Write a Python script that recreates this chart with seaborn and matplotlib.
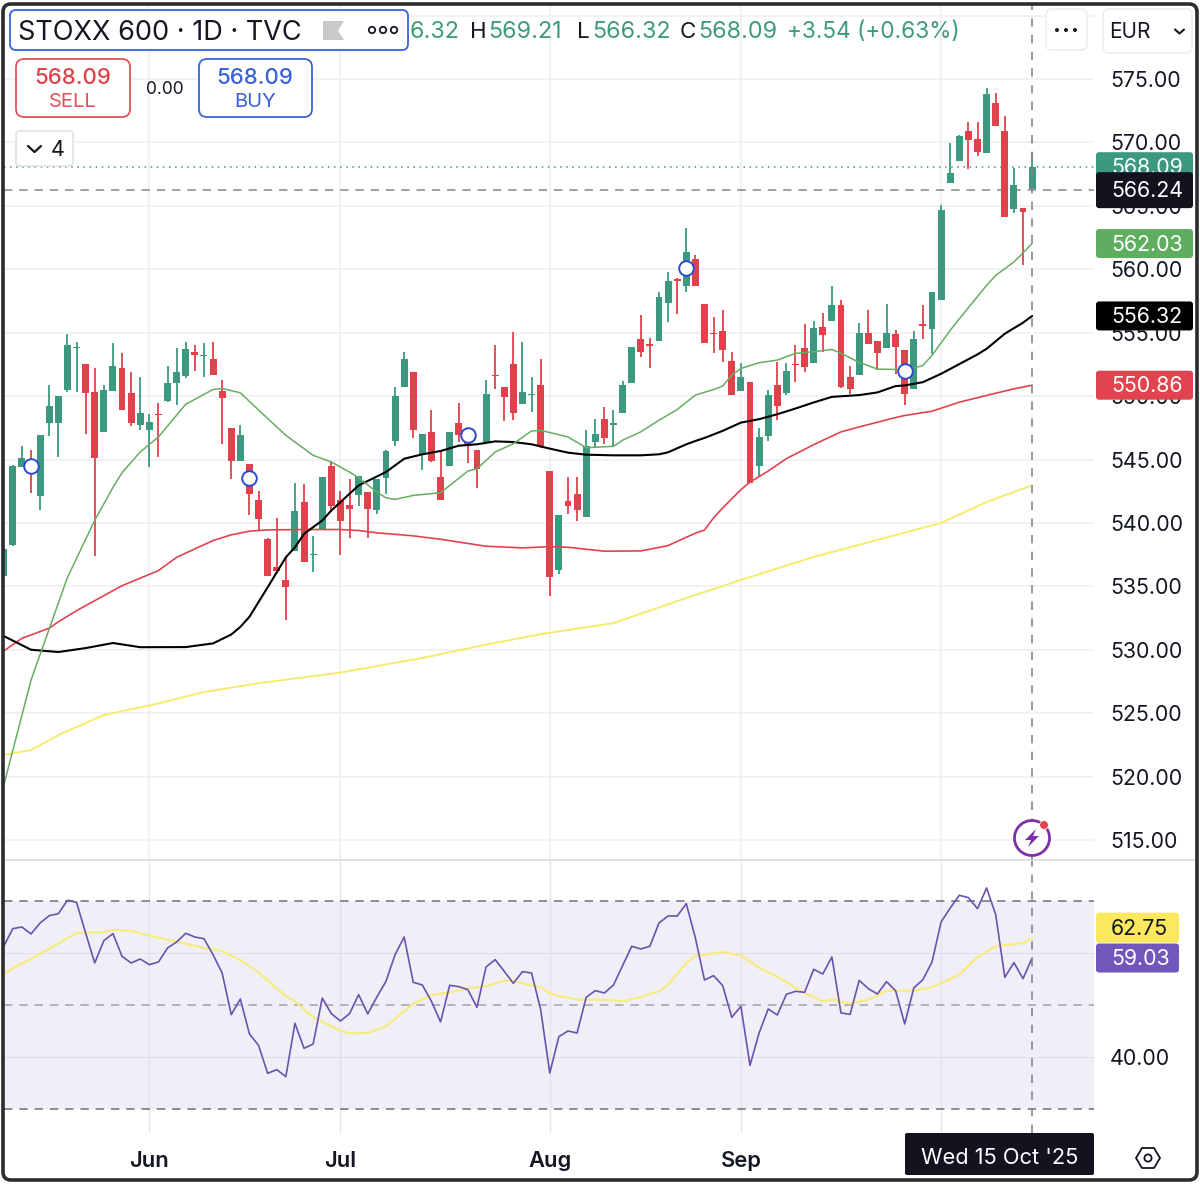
import matplotlib
matplotlib.use("Agg")
import matplotlib.pyplot as plt
from matplotlib.patches import FancyBboxPatch, Polygon, Circle, Arc
import numpy as np
import pandas as pd
import seaborn as sns

# candles (index 0 is the half hidden one at the left edge)
opens = [535.84, 538.29, 544.41, 544.8, 542.11, 547.88, 547.88, 550.52, 553.79, 552.57,
         550.36, 547.17, 550.39, 552.23, 550.28, 547.7, 547.3, 548.6, 549.6, 551.07,
         551.57, 553.47, 553.13, 552.92, 550.39, 547.49, 544.88, 544.67, 541.77, 538.71,
         536.5, 535.5, 537.79, 541.64, 537.45, 539.48, 544.49, 541.77, 541.43, 542.19,
         542.4, 540.98, 543.56, 546.43, 550.73, 551.89, 545.33, 547.2, 543.59, 544.49,
         547.91, 547.17, 545.75, 546.33, 551.65, 550.68, 552.57, 549.41, 550.07, 550.89,
         544.09, 536.32, 541.69, 542.27, 540.45, 546.41, 548.17, 547.75, 548.65, 551.07,
         554.53, 554.08, 554.37, 557.32, 559.22, 558.69, 560.83, 557.3, 555.0, 555.13,
         552.76, 550.44, 551.15, 544.49, 546.83, 550.89, 550.21, 552.55, 553.82, 552.58,
         555.42, 555.95, 557.16, 551.47, 551.66, 555.0, 554.37, 553.82, 554.87, 553.6,
         550.57, 555.65, 555.29, 557.58, 566.81, 568.55, 570.89, 570.31, 569.18, 573.13,
         570.87, 564.73, 564.81, 566.32]
closes = [537.95, 544.51, 545.12, 544.0, 546.94, 549.23, 549.99, 554.02, 553.89, 550.26,
          545.12, 550.49, 552.36, 548.94, 547.88, 548.67, 547.94, 548.49, 551.05, 551.89,
          553.71, 553.23, 553.23, 551.65, 549.83, 544.88, 546.94, 542.27, 540.27, 535.79,
          536.18, 534.92, 540.95, 536.9, 537.55, 543.59, 541.32, 540.19, 541.11, 543.72,
          541.06, 543.46, 545.7, 549.99, 552.92, 547.3, 546.99, 544.88, 541.77, 547.2,
          546.96, 546.2, 544.27, 550.2, 551.57, 549.89, 548.7, 550.33, 550.2, 546.04,
          535.71, 540.59, 541.32, 540.98, 546.04, 547.04, 546.7, 547.88, 550.84, 553.89,
          553.5, 553.97, 557.85, 559.09, 559.09, 561.33, 558.67, 554.21, 554.92, 553.63,
          550.08, 551.47, 543.15, 546.78, 550.08, 549.21, 552.0, 552.42, 552.26, 555.35,
          554.82, 557.16, 550.73, 550.58, 555.0, 554.08, 553.4, 554.95, 553.87, 550.18,
          554.47, 555.52, 558.18, 564.66, 567.6, 570.5, 570.21, 569.24, 573.81, 571.29,
          564.13, 566.63, 564.52, 568.09]
highs = [537.95, 544.6, 546.09, 545.72, 546.94, 550.84, 549.99, 554.87, 554.23, 552.57,
         552.23, 550.84, 554.16, 553.42, 551.89, 551.52, 548.62, 549.49, 552.36, 553.76,
         554.23, 554.02, 554.16, 554.23, 551.26, 547.49, 547.75, 544.67, 542.53, 538.82,
         540.4, 537.29, 543.17, 543.09, 539.0, 543.59, 544.88, 542.53, 543.43, 543.72,
         542.4, 543.46, 545.78, 550.68, 553.44, 551.89, 546.99, 548.94, 545.62, 547.2,
         549.49, 547.4, 545.75, 551.26, 554.02, 550.68, 555.05, 554.23, 551.47, 552.92,
         544.09, 540.59, 543.62, 543.62, 547.36, 548.17, 549.15, 548.89, 551.23, 553.89,
         556.37, 554.58, 558.19, 559.8, 559.3, 563.28, 561.12, 557.3, 556.24, 556.79,
         553.45, 552.58, 551.15, 547.49, 550.47, 552.71, 552.58, 554.03, 555.69, 555.92,
         556.53, 558.69, 557.58, 552.37, 555.79, 556.79, 554.37, 557.3, 555.21, 553.6,
         555.13, 557.15, 558.18, 565.05, 569.92, 570.6, 571.63, 571.63, 574.26, 573.87,
         572.1, 567.95, 564.81, 569.21]
lows = [535.84, 538.2, 544.41, 542.38, 541.0, 546.83, 545.17, 550.31, 550.31, 547.04,
        537.37, 547.17, 550.39, 548.94, 547.67, 547.36, 544.41, 545.17, 549.55, 549.33,
        551.44, 551.97, 551.52, 551.65, 546.22, 543.48, 544.88, 540.64, 539.45, 535.79,
        536.18, 532.34, 537.79, 536.9, 536.11, 539.48, 540.85, 537.45, 538.82, 541.32,
        538.82, 540.72, 542.25, 546.07, 550.73, 546.7, 544.19, 544.82, 541.77, 544.49,
        546.38, 544.75, 542.75, 546.33, 550.57, 548.02, 548.15, 549.41, 548.75, 545.88,
        534.23, 535.97, 540.72, 540.19, 540.45, 545.99, 546.2, 546.04, 548.65, 551.07,
        553.1, 552.24, 554.37, 555.82, 556.5, 558.24, 558.67, 554.21, 553.37, 552.68,
        550.08, 550.44, 543.15, 543.62, 546.46, 548.1, 550.08, 551.13, 551.92, 552.58,
        553.5, 555.95, 550.65, 550.15, 551.66, 554.08, 552.05, 553.82, 551.71, 549.26,
        550.57, 554.52, 553.34, 557.58, 566.81, 568.55, 567.87, 568.97, 569.18, 571.29,
        564.13, 564.47, 560.34, 566.32]

# moving averages: candle index and value at the places they were read
ma20_x = [0, 3, 7, 10, 12, 13, 15, 17, 20, 23, 24, 26, 29, 31, 34, 36, 38, 39, 41, 42, 43, 45, 48,
          51, 52, 54, 56, 58, 59, 62, 64, 67, 68, 70, 72, 74, 76, 78, 79, 80, 81, 83, 85, 87, 89,
          91, 92, 94, 96, 98, 99, 100, 101, 102, 104, 105, 106, 108, 109, 111, 112, 113]
ma20_y = [519.3, 527.6, 535.7, 540.2, 542.8, 543.96, 545.6, 546.78, 549.36, 550.52, 550.6, 550.26,
          548.23, 546.91, 545.33, 544.8, 544.01, 543.56, 542.43, 541.98, 541.85, 542.17, 542.38,
          544.09, 544.27, 545.59, 546.25, 547.25, 547.3, 546.78, 545.93, 546.04, 546.52, 547.18,
          548.1, 548.94, 550.08, 550.52, 550.79, 551.66, 552.18, 552.63, 552.84, 553.37, 553.5,
          553.68, 553.37, 552.66, 552.13, 552.1, 552.07, 552.21, 552.42, 553.21, 555.18, 556.1,
          556.97, 558.73, 559.52, 560.58, 561.29, 562.03]
ma50_x = [0, 3, 6, 9, 12, 15, 20, 23, 25, 26, 27, 29, 31, 32, 33, 35, 36, 38, 39, 42, 44, 46, 48,
          50, 52, 54, 56, 58, 60, 62, 64, 67, 70, 72, 73, 75, 76, 77, 79, 81, 83, 85, 87, 89, 91,
          94, 96, 98, 99, 101, 103, 107, 108, 110, 112, 113]
ma50_y = [531.08, 530.0, 529.82, 530.13, 530.53, 530.2, 530.21, 530.5, 531.2, 531.8, 532.6, 534.92,
          537.29, 538.08, 539.14, 540.19, 540.98, 542.3, 542.96, 544.01, 545.06, 545.41, 545.67,
          546.09, 546.2, 546.43, 546.38, 546.2, 545.86, 545.54, 545.38, 545.33, 545.33, 545.41,
          545.57, 546.2, 546.46, 546.7, 547.26, 547.91, 548.18, 548.57, 549.02, 549.5, 549.94,
          550.08, 550.29, 550.79, 550.84, 551.1, 551.76, 553.29, 553.73, 554.92, 555.79, 556.32]
ma100_x = [0, 2, 5, 6, 8, 10, 13, 17, 19, 21, 23, 25, 27, 29, 33, 37, 39, 41, 45, 48, 53, 57, 60,
           62, 66, 70, 73, 75, 76, 77, 78, 79, 80, 81, 82, 84, 86, 89, 92, 94, 98, 99, 102, 105,
           109, 111, 113]
ma100_y = [529.9, 530.9, 531.7, 532.2, 533.08, 533.87, 535.05, 536.24, 537.29, 537.95, 538.61,
           539.06, 539.35, 539.45, 539.48, 539.48, 539.4, 539.22, 538.98, 538.71, 538.16, 538.03,
           538.13, 538.08, 537.77, 537.79, 538.21, 538.87, 539.19, 539.44, 540.4, 541.18, 541.9,
           542.62, 543.22, 544.09, 545.07, 546.17, 547.18, 547.57, 548.31, 548.47, 548.81, 549.52,
           550.23, 550.57, 550.86]
ma200_x = [0, 3, 6, 11, 16, 22, 28, 37, 46, 53, 59, 67, 75, 81, 89, 96, 103, 108, 113]
ma200_y = [521.7, 522.08, 523.27, 524.85, 525.6, 526.66, 527.36, 528.2, 529.35, 530.4, 531.23,
           532.1, 534.08, 535.5, 537.32, 538.66, 540.0, 541.65, 542.97]

# blue circle markers on the candles
signal_x = [3, 27, 51, 75, 99]
signal_y = [544.5, 543.53, 546.9, 560.1, 552.0]

# RSI pane
rsi = [61.28, 64.68, 65.0, 63.65, 65.77, 67.18, 67.56, 70.13, 69.74, 63.84,
       58.08, 62.37, 63.72, 59.36, 58.08, 58.84, 57.75, 58.27, 60.96, 62.11,
       63.78, 63.07, 62.75, 59.68, 56.15, 48.14, 51.15, 44.42, 42.24, 36.86,
       37.56, 36.22, 46.47, 41.66, 42.5, 51.34, 48.33, 46.92, 48.33, 51.99,
       48.27, 51.54, 54.55, 59.68, 63.07, 54.36, 53.84, 50.7, 46.73, 53.78,
       53.52, 52.95, 49.55, 57.31, 58.72, 56.47, 54.16, 56.41, 56.15, 49.1,
       36.92, 43.9, 45.0, 44.61, 51.47, 52.75, 52.31, 53.84, 57.56, 61.28,
       60.77, 61.28, 65.77, 67.11, 67.11, 69.48, 62.88, 54.81, 55.64, 53.72,
       47.63, 49.74, 38.4, 44.61, 49.23, 48.07, 52.05, 52.63, 52.43, 56.86,
       55.96, 59.23, 48.46, 48.2, 54.74, 53.14, 52.11, 54.49, 52.75, 46.34,
       53.27, 54.87, 58.27, 65.96, 68.65, 71.09, 70.64, 68.52, 72.5, 67.37,
       55.32, 58.14, 55.06, 59.03]
rsi_ma_x = [0, 1, 3, 5, 8, 11, 12, 14, 16, 19, 22, 24, 26, 28, 31, 32, 34, 37, 38, 40, 42, 45, 47,
            49, 51, 53, 55, 56, 58, 59, 60, 61, 63, 66, 68, 70, 72, 73, 75, 76, 79, 81, 83, 85, 88,
            90, 91, 93, 95, 97, 100, 102, 105, 107, 109, 112, 113]
rsi_ma_y = [55.83, 57.11, 58.84, 60.83, 63.84, 63.97, 64.48, 64.29, 63.33, 62.18, 60.96, 60.38,
            58.59, 56.28, 51.67, 50.7, 47.63, 45.06, 44.55, 44.61, 45.9, 50.25, 51.86, 52.43, 53.2,
            53.59, 54.68, 54.61, 53.72, 53.46, 52.18, 51.73, 51.02, 51.02, 50.7, 51.54, 52.63,
            53.91, 58.08, 59.48, 60.19, 59.55, 57.12, 55.45, 52.3, 50.7, 51.02, 50.25, 51.02, 52.75,
            52.75, 53.4, 55.83, 59.23, 61.28, 61.92, 62.75]

month_idx = [16, 37, 60, 81]
month_labels = ["Jun", "Jul", "Aug", "Sep"]
oct_idx = 103
price_ticks = list(range(515, 580, 5))
last_price = 568.09
cross_price = 566.24

GREEN = "#3d9880"
RED = "#e0424c"
GRID = "#f0f0f3"
DASH = "#85858c"

sns.set_style("white")
plt.rcParams["font.family"] = ["Inter", "DejaVu Sans"]

W, H = 1200, 1184
fig = plt.figure(figsize=(W / 100, H / 100), dpi=100, facecolor="white")


def px_axes(left, top, right, bottom):
    return fig.add_axes([left / W, 1 - bottom / H, (right - left) / W, (bottom - top) / H])


ax = px_axes(4, 5, 1094, 860)
ax_rsi = px_axes(4, 860, 1094, 1133)
# pixel space for the toolbar bits that are not data
ui = fig.add_axes([0, 0, 1, 1], zorder=10)
ui.set_xlim(0, W)
ui.set_ylim(H, 0)
ui.axis("off")
ui.patch.set_alpha(0)

x_lim = (0.03, 119.8)
ax.set_xlim(x_lim)
ax.set_ylim(513.42, 580.84)
ax_rsi.set_xlim(x_lim)
ax_rsi.set_ylim(25.38, 77.88)

for a in (ax, ax_rsi):
    for s in a.spines.values():
        s.set_visible(False)
    a.set_axisbelow(True)
    a.grid(False)
    a.yaxis.tick_right()
    a.tick_params(length=0, labelsize=15.4, colors="#131722")

ax.set_yticks(price_ticks)
ax.set_yticklabels([f"{p:.2f}" for p in price_ticks])
ax.tick_params(axis="y", pad=11.5)
ax.set_xticks([])
ax.grid(True, axis="y", color=GRID, lw=1.2)
ax.axhline(580, color=GRID, lw=1.2, zorder=0)
for m in month_idx + [oct_idx]:
    ax.axvline(m, color=GRID, lw=1.2, zorder=0)
    ax_rsi.axvline(m, color="#e4e2ea", lw=1.0, zorder=1)

# candles
df = pd.DataFrame({"o": opens, "h": highs, "l": lows, "c": closes})
df["x"] = df.index
colors = np.where(df["c"] >= df["o"], GREEN, RED)
ax.vlines(df["x"], df["l"], df["h"], colors=colors, lw=1.3, zorder=3)
ax.bar(df["x"], (df["c"] - df["o"]).abs(), bottom=df[["o", "c"]].min(axis=1), width=0.76,
       color=colors, lw=0, zorder=3)

# moving averages
sns.lineplot(x=ma200_x, y=ma200_y, color="#f6ec6c", lw=1.4, ax=ax, zorder=4)
sns.lineplot(x=ma100_x, y=ma100_y, color="#e2434f", lw=1.2, ax=ax, zorder=4)
sns.lineplot(x=ma50_x, y=ma50_y, color="#000000", lw=1.5, ax=ax, zorder=4)
sns.lineplot(x=ma20_x, y=ma20_y, color="#67ad62", lw=1.1, ax=ax, zorder=4)

sns.scatterplot(x=signal_x, y=signal_y, s=110, facecolor="white", edgecolor="#2a4bd4",
                linewidth=1.4, ax=ax, zorder=5)

# price line and crosshair
ax.axhline(last_price, color=GREEN, lw=1.1, ls=(0, (1, 3)), zorder=2)
ax.axhline(cross_price, color=DASH, lw=1.1, ls=(0, (5.5, 4.5)), zorder=2)
ax.axvline(len(opens) - 1, color=DASH, lw=1.2, ls=(0, (5, 5)), zorder=6)
ax_rsi.axvline(len(opens) - 1, color=DASH, lw=1.2, ls=(0, (5, 5)), zorder=6)

# RSI pane
ax_rsi.axhspan(30, 70, color="#f0eef7", lw=0, zorder=0)
ax_rsi.set_yticks([40])
ax_rsi.set_yticklabels(["40.00"])
ax_rsi.tick_params(axis="y", pad=11.5)
for lvl in (60, 40):
    ax_rsi.axhline(lvl, color="#e0deE6", lw=0.8, zorder=1)
for lvl, col in ((70, "#6f6f78"), (50, "#a3a1aa"), (30, "#6f6f78")):
    ax_rsi.axhline(lvl, color=col, lw=1.1, ls=(0, (5.5, 4.5)), zorder=2)
sns.lineplot(x=rsi_ma_x, y=rsi_ma_y, color="#f6ec7a", lw=1.5, ax=ax_rsi, zorder=3)
sns.lineplot(x=range(len(rsi)), y=rsi, color="#6a53ae", lw=1.2, ax=ax_rsi, zorder=4)
ax_rsi.set_xticks(month_idx)
ax_rsi.set_xticklabels(month_labels, fontsize=15.8, fontweight="semibold", color="#131722")
ax_rsi.tick_params(axis="x", pad=12.7)
for a in (ax, ax_rsi):
    a.set_xlabel("")
    a.set_ylabel("")


def box(x0, y0, x1, y1, fc="white", ec="none", lw=1.2, r=4, z=1):
    p = FancyBboxPatch((x0 + r, y0 + r), x1 - x0 - 2 * r, y1 - y0 - 2 * r,
                       boxstyle=f"round,pad={r},rounding_size={r}", fc=fc, ec=ec, lw=lw, zorder=z)
    ui.add_patch(p)


def label(x, y, s, color="#131722", size=15.4, ha="left", weight="normal", z=5):
    # Inter sits about 2px high with va=center
    ui.text(x, y + 2, s, color=color, fontsize=size, ha=ha, va="center", fontweight=weight, zorder=z)


def value_to_px(a, v):
    return H - a.transData.transform((0, v))[1]


def tag(a, v, fc, tc="white", right=1193, half=14.5, z=2, shift=0):
    y = value_to_px(a, v) + shift
    box(1096, y - half, right, y + half, fc=fc, r=3, z=z)
    label(1111, y - 1, f"{v:.2f}", color=tc, z=z)


# price tags, the later ones sit on top
tag(ax, 568.09, GREEN)
tag(ax, cross_price, "#12131f", half=18, z=3)
ui.texts[-1].set_zorder(5)
tag(ax, 562.03, "#5fae60")
tag(ax, 556.32, "#000000")
tag(ax, 550.86, "#e0454f")
tag(ax_rsi, 62.75, "#fbe85c", tc="#131722", right=1179, half=15, shift=-11)
tag(ax_rsi, 59.03, "#7156bb", right=1179, half=14.5)

# separator between the panes
ui.plot([4, 1197], [860, 860], color="#d9d9de", lw=1.1, zorder=1)

# header
box(10, 10, 408, 50, ec="#3a62d8", lw=1.3, r=6)
label(18, 31, "STOXX 600 · 1D · TVC", size=19.5)
ui.add_patch(Polygon([(323, 21), (344, 21), (338, 30.5), (344, 40), (323, 40)], fc="#c9c9c9", ec="none", zorder=3))
for cx in (372, 383, 394):
    ui.add_patch(Circle((cx, 30), 3.2, fc="white", ec="#131722", lw=1.3, zorder=3))
teal = "#3d9a80"
label(410, 30, "6.32", color=teal, size=16.8)
label(470, 30, "H", size=16)
label(488, 30, "569.21", color=teal, size=16.8)
label(577, 30, "L", size=16)
label(592, 30, "566.32", color=teal, size=16.8)
label(680, 30, "C", size=16)
label(698, 30, "568.09", color=teal, size=16.8)
label(787, 30, "+3.54 (+0.63%)", color=teal, size=16.3)

# sell and buy buttons
box(16, 59, 130, 117, ec="#e0525a", lw=1.3, r=8)
label(73, 76, "568.09", color="#e0424c", size=16, ha="center", weight="medium")
label(73, 100, "SELL", color="#e0525a", size=14.5, ha="center")
label(165, 87, "0.00", size=12.5, ha="center")
box(199, 59, 312, 117, ec="#3a62d8", lw=1.3, r=8)
label(255, 76, "568.09", color="#3a62d8", size=16, ha="center", weight="medium")
label(255, 100, "BUY", color="#3a62d8", size=14.5, ha="center")

# collapsed indicators button
box(16, 131, 73, 166, ec="#e2e2e6", lw=1.2, r=4)
ui.plot([28, 34.5, 41], [146, 152, 146], color="#131722", lw=1.6, zorder=3)
label(51, 148, "4", size=15.4)

# right-hand toolbar
box(1046, 9, 1087, 50, ec="#eeeef0", lw=1.2, r=6)
for cx in (1057, 1066, 1075):
    ui.add_patch(Circle((cx, 30), 2.0, fc="#131722", ec="none", zorder=3))
box(1103, 9, 1192, 53, ec="#eeeef0", lw=1.2, r=6)
label(1109, 30, "EUR", size=15)
ui.plot([1175, 1179.5, 1184], [29.5, 33.5, 29.5], color="#131722", lw=1.5, zorder=3)

# bolt badge on the crosshair
bx, by = 1032, 838
ui.add_patch(Circle((bx, by), 19, fc="white", ec="none", zorder=3))
ui.add_patch(Arc((bx, by), 35, 35, theta1=-40, theta2=300, ec="#7d2fa5", lw=2.0, zorder=4))
ui.add_patch(Polygon([(bx + 4, by - 9), (bx - 7, by + 2), (bx - 1, by + 2), (bx - 4, by + 9),
                      (bx + 7, by - 2), (bx + 1, by - 2)], fc="#7d2fa5", ec="none", zorder=4))
ui.add_patch(Circle((bx + 12, by - 13), 4.4, fc="#e8404a", ec="white", lw=0.6, zorder=5))

# date under the crosshair
box(905, 1133, 1094, 1175, fc="#12131f", r=2, z=3)
label(1000, 1156, "Wed 15 Oct '25", color="white", size=15.7, ha="center")

# settings hexagon
hx, hy = 1148, 1158
ui.add_patch(Polygon([(hx - 12, hy), (hx - 6, hy - 10), (hx + 6, hy - 10), (hx + 12, hy),
                      (hx + 6, hy + 10), (hx - 6, hy + 10)], fc="white", ec="#131722", lw=1.3, zorder=3))
ui.add_patch(Circle((hx, hy), 3.6, fc="white", ec="#131722", lw=1.3, zorder=4))

# window frame
ui.add_patch(FancyBboxPatch((3, 4), W - 6, H - 8, boxstyle="round,pad=0,rounding_size=8",
                            fc="none", ec="#2b2b2e", lw=2.6, zorder=20))

fig.savefig("out.png", dpi=100)
